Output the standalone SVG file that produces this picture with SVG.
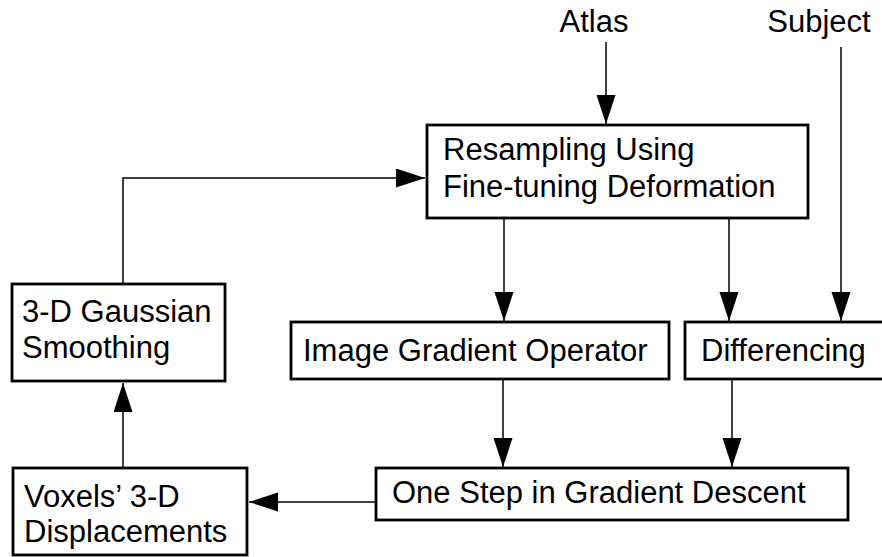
<svg xmlns="http://www.w3.org/2000/svg" width="882" height="557" viewBox="0 0 882 557">
  <style>
    .box { fill: #fff; stroke: #000; stroke-width: 2.8; }
    .lbl { font-family: "Liberation Sans", Arial, Helvetica, sans-serif; font-size: 31px; fill: #000; }
    .wire { fill: none; stroke: #000; stroke-width: 1.5; }
  </style>
  <defs>
    <marker id="arrow" markerUnits="userSpaceOnUse" markerWidth="30" markerHeight="20" refX="29" refY="9.5" orient="auto">
      <path d="M0,0 L29,9.5 L0,19 Z" fill="#000"/>
    </marker>
  </defs>

  <rect width="882" height="557" fill="#fff"/>

  <!-- inputs -->
  <g id="atlas">
    <text class="lbl" x="594" y="32" text-anchor="middle">Atlas</text>
  </g>
  <g id="subject">
    <text class="lbl" x="819" y="32" text-anchor="middle">Subject</text>
  </g>

  <!-- processing blocks -->
  <g id="resampling">
    <rect class="box" x="427" y="125" width="381" height="93"/>
    <text class="lbl" x="443" y="160">Resampling Using</text>
    <text class="lbl" x="443" y="197">Fine-tuning Deformation</text>
  </g>
  <g id="gaussian">
    <rect class="box" x="12" y="284" width="213" height="97"/>
    <text class="lbl" x="22" y="322">3-D Gaussian</text>
    <text class="lbl" x="22" y="358">Smoothing</text>
  </g>
  <g id="gradient">
    <rect class="box" x="291" y="322" width="378" height="57"/>
    <text class="lbl" x="303" y="361">Image Gradient Operator</text>
  </g>
  <g id="differencing">
    <!-- right edge runs past the canvas border -->
    <rect class="box" x="685" y="322" width="205" height="57"/>
    <text class="lbl" x="701" y="361">Differencing</text>
  </g>
  <g id="descent">
    <rect class="box" x="376" y="468" width="472" height="52"/>
    <text class="lbl" x="392" y="503">One Step in Gradient Descent</text>
  </g>
  <g id="displacements">
    <rect class="box" x="13" y="468" width="234" height="87"/>
    <text class="lbl" x="24" y="507">Voxels’ 3-D</text>
    <text class="lbl" x="24" y="542">Displacements</text>
  </g>

  <!-- connectors -->
  <g id="connectors">
    <path class="wire" d="M606,42 V124" marker-end="url(#arrow)"/>
    <path class="wire" d="M841,47 V321" marker-end="url(#arrow)"/>
    <path class="wire" d="M504,219 V321" marker-end="url(#arrow)"/>
    <path class="wire" d="M729,219 V321" marker-end="url(#arrow)"/>
    <path class="wire" d="M503,380 V467" marker-end="url(#arrow)"/>
    <path class="wire" d="M732,380 V467" marker-end="url(#arrow)"/>
    <path class="wire" d="M375,502 H249" marker-end="url(#arrow)"/>
    <path class="wire" d="M123,467 V383" marker-end="url(#arrow)"/>
    <path class="wire" d="M123,283 V178 H425" marker-end="url(#arrow)"/>
  </g>
</svg>
